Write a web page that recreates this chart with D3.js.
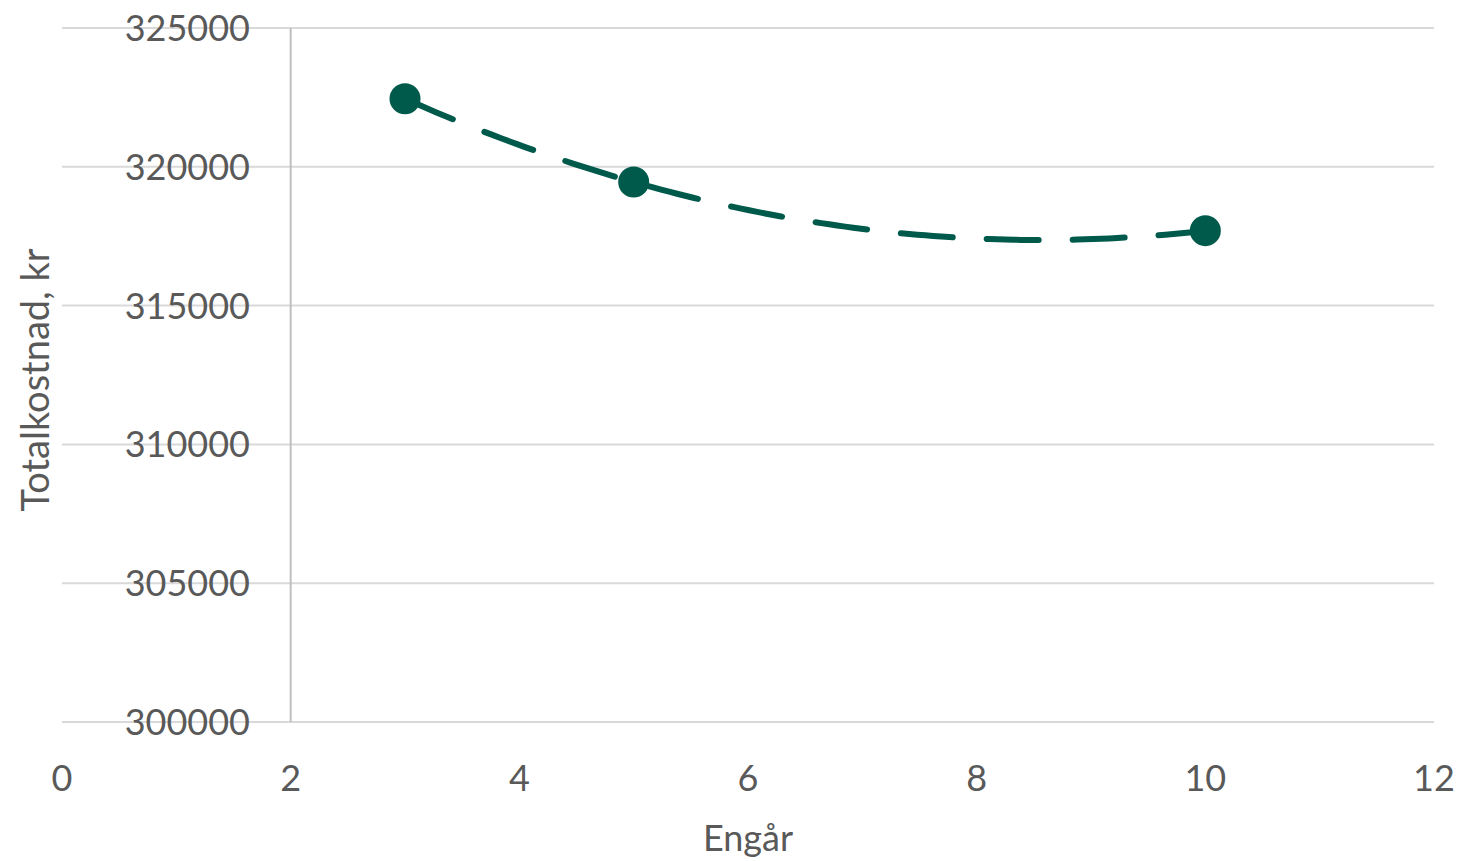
<!DOCTYPE html>
<html><head><meta charset="utf-8">
<script src="https://cdn.jsdelivr.net/npm/d3@7"></script>
<style>body{margin:0;background:#fff}svg{display:block}text{font-family:Lato,"Open Sans",sans-serif;fill:#595959}</style>
</head><body><svg id="c" width="1460" height="861"></svg>
<script>
const years = [3, 5, 10];
const totalCost = [322450, 319450, 317700];
const xTicks = [0, 2, 4, 6, 8, 10, 12];
const yTicks = [300000, 305000, 310000, 315000, 320000, 325000];

const svg = d3.select("#c");
const x = d3.scaleLinear().domain([0, 12]).range([62, 1434]);
const y = d3.scaleLinear().domain([300000, 325000]).range([722, 28]);

// gridlines
svg.append("g").selectAll("line").data(yTicks).join("line")
  .attr("x1", 62).attr("x2", 1434).attr("y1", d => y(d)).attr("y2", d => y(d))
  .attr("stroke", "#d9d9d9").attr("stroke-width", 2);

// vertical axis line at x=2
svg.append("line").attr("x1", x(2)).attr("x2", x(2)).attr("y1", y(325000)).attr("y2", y(300000))
  .attr("stroke", "#bfbfbf").attr("stroke-width", 2);

// y tick labels
svg.append("g").selectAll("text").data(yTicks).join("text")
  .attr("x", 250).attr("y", d => y(d)).attr("dy", "0.36em")
  .attr("text-anchor", "end").attr("font-size", 36).text(d => d);

// x tick labels
svg.append("g").selectAll("text").data(xTicks).join("text")
  .attr("x", d => x(d)).attr("y", 778).attr("dy", "0.36em")
  .attr("text-anchor", "middle").attr("font-size", 36).text(d => d);

// axis titles
svg.append("text").attr("x", 748).attr("y", 838).attr("dy", "0.36em")
  .attr("text-anchor", "middle").attr("font-size", 36).text("Engår");
svg.append("text").attr("transform", "translate(35,380) rotate(-90)").attr("dy", "0.36em")
  .attr("text-anchor", "middle").attr("font-size", 38).text("Totalkostnad, kr");

// polynomial (order 2) trendline fitted through the data points
const pts = years.map((d, i) => [d, totalCost[i]]);
function trend(t) {
  let s = 0;
  for (let i = 0; i < pts.length; i++) {
    let l = 1;
    for (let j = 0; j < pts.length; j++) if (j !== i) l *= (t - pts[j][0]) / (pts[i][0] - pts[j][0]);
    s += l * pts[i][1];
  }
  return s;
}
const x0 = d3.min(years), x1 = d3.max(years);
const trendPts = d3.range(0, 101).map(k => { const t = x0 + (x1 - x0) * k / 100; return [t, trend(t)]; });
const line = d3.line().x(d => x(d[0])).y(d => y(d[1]));
svg.append("path").attr("d", line(trendPts)).attr("fill", "none")
  .attr("stroke", "#005a4b").attr("stroke-width", 6)
  .attr("stroke-dasharray", "52,34").attr("stroke-linecap", "round");

svg.append("g").selectAll("circle").data(pts).join("circle")
  .attr("cx", d => x(d[0])).attr("cy", d => y(d[1])).attr("r", 15.5)
  .attr("fill", "#005a4b");
</script></body></html>
